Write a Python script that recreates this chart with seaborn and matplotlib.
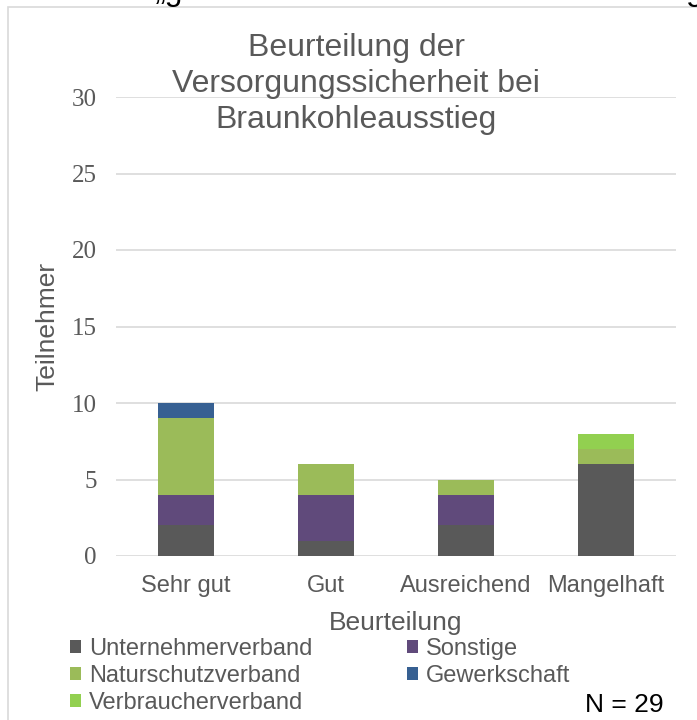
import numpy as np
import matplotlib
matplotlib.use("Agg")
import matplotlib.pyplot as plt
from matplotlib.patches import Patch, Rectangle
import seaborn as sns

# Data
categories = ['Sehr gut', 'Gut', 'Ausreichend', 'Mangelhaft']
unternehmerverband = [2, 1, 2, 6]
sonstige = [2, 3, 2, 0]
naturschutzverband = [5, 2, 1, 1]
gewerkschaft = [1, 0, 0, 0]
verbraucherverband = [0, 0, 0, 1]

series_names = ['Unternehmerverband', 'Sonstige', 'Naturschutzverband',
                'Gewerkschaft', 'Verbraucherverband']
series_values = [unternehmerverband, sonstige, naturschutzverband,
                 gewerkschaft, verbraucherverband]
colors = ['#595959', '#604A7B', '#9BBB59', '#376092', '#92D050']
text_gray = '#595959'

sns.set_style('white')
plt.rcParams['font.family'] = ['Liberation Sans', 'DejaVu Sans']

fig = plt.figure(figsize=(6.97, 7.2), dpi=100)
ax = fig.add_axes([116 / 697, 1 - 556 / 720, 560 / 697, 459 / 720])

# stacked bars: draw cumulative totals from top segment downwards
cum = np.cumsum(np.array(series_values), axis=0)
for i in reversed(range(len(series_names))):
    sns.barplot(x=categories, y=cum[i], color=colors[i], saturation=1,
                width=0.4, ax=ax, zorder=3, linewidth=0, edgecolor='none')

ax.set_ylim(0, 30)
ax.set_xlim(-0.5, 3.5)
ax.set_yticks([0, 5, 10, 15, 20, 25, 30])
ax.grid(axis='y', color='#D9D9D9', linewidth=1.2, zorder=0)
ax.set_axisbelow(True)
for s in ax.spines.values():
    s.set_visible(False)
ax.tick_params(axis='both', length=0)
ax.tick_params(axis='x', labelsize=17, colors=text_gray, pad=14)
for lbl in ax.get_yticklabels():
    lbl.set_fontfamily('Liberation Serif')
    lbl.set_fontsize(18)
    lbl.set_color(text_gray)
ax.tick_params(axis='y', pad=14)

ax.set_xlabel('Beurteilung', fontsize=19, color=text_gray, labelpad=10)
ax.set_ylabel('Teilnehmer', fontsize=19, color=text_gray, labelpad=9)

# title
fig.text(356 / 697, 1 - 84 / 720,
         'Beurteilung der\nVersorgungssicherheit bei\nBraunkohleausstieg',
         ha='center', va='center', fontsize=23, color=text_gray,
         linespacing=1.25)

# legend (row-wise order as in the reference)
order = [0, 2, 4, 1, 3]
handles = [Patch(facecolor=colors[i], edgecolor='none') for i in order]
labels = [series_names[i] for i in order]
fig.legend(handles, labels, loc='upper left', ncol=2,
           bbox_to_anchor=(70 / 697, 1 - 638 / 720), frameon=False,
           fontsize=17, handlelength=0.47, handleheight=0.47,
           handletextpad=0.34, columnspacing=4.0, labelspacing=0.22,
           borderpad=0, borderaxespad=0, labelcolor=text_gray)

fig.text(585 / 697, 1 - 705 / 720, 'N = 29', fontsize=19, color='black',
         va='center')

# chart frame border
fig.patches.append(Rectangle((8 / 697, -0.05), 1.0, 1.05 - 7 / 720,
                             transform=fig.transFigure, fill=False,
                             edgecolor='#D9D9D9', linewidth=1.2))

# clipped text fragments from the document above
fig.text(155 / 697, 1.0, '„g', fontsize=23, color='black', va='baseline')
fig.text(686 / 697, 1.0, 'g', fontsize=23, color='black', va='baseline')

fig.savefig('out.png', dpi=100)
